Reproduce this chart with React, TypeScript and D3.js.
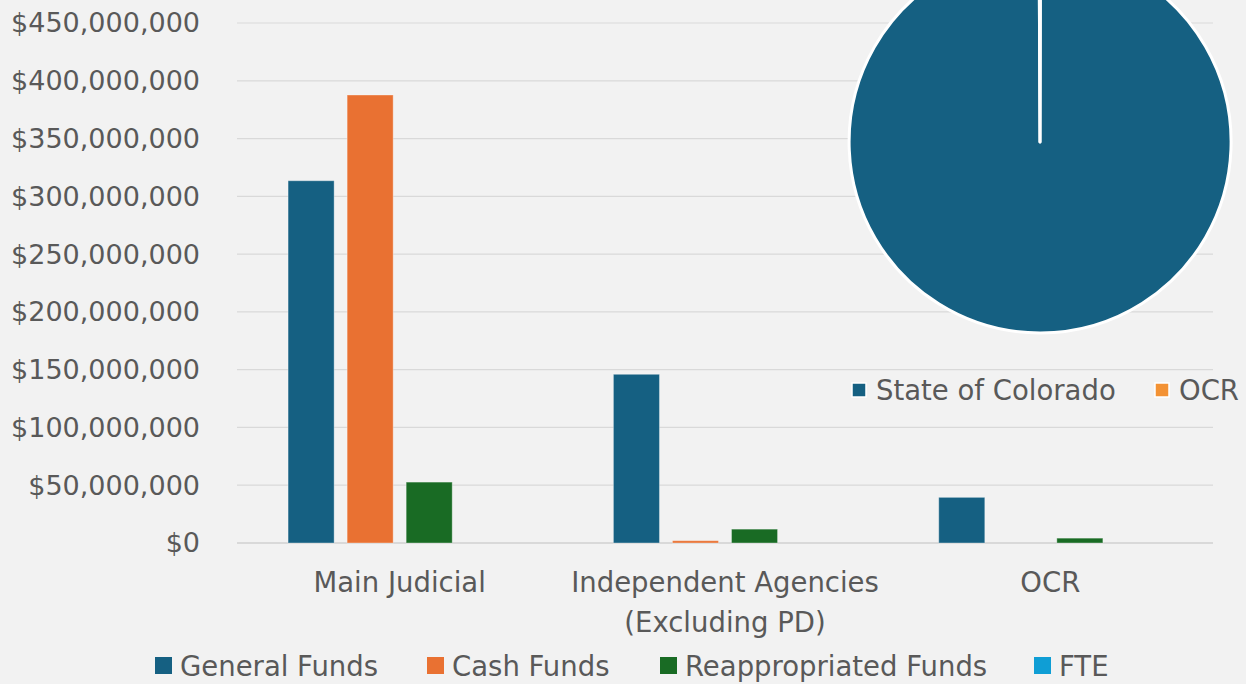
import React from "react";
import * as d3 from "d3";

const categories = ["Main Judicial", "Independent Agencies\n(Excluding PD)", "OCR"];
const seriesNames = ["General Funds", "Cash Funds", "Reappropriated Funds", "FTE"];
const generalFunds = [313500000, 146000000, 39500000];
const cashFunds = [387700000, 2000000, 0];
const reappropriatedFunds = [52700000, 12000000, 4200000];
const fte = [0, 0, 0];
const seriesColors = ["#156082", "#E97132", "#196B24", "#0F9ED5"];
const yTicks = [0, 50000000, 100000000, 150000000, 200000000, 250000000, 300000000, 350000000, 400000000, 450000000];

const pieLabels = ["State of Colorado", "OCR"];
const pieValues = [99.9, 0.1];
const pieColors = ["#156082", "#F39234"];

const W = 1246, H = 684;
const FONT = "'DejaVu Sans', sans-serif";
const TXT = "#595959";

export default function App() {
  const seriesValues = [generalFunds, cashFunds, reappropriatedFunds, fte];
  const y = d3.scaleLinear().domain([0, 450000000]).range([543, 23]);
  const x0 = d3.scaleBand<number>().domain(d3.range(categories.length)).range([237, 1213]).padding(0);
  const bw = x0.bandwidth();
  const x1 = d3.scaleBand<number>().domain(d3.range(seriesNames.length)).range([bw * 0.157, bw * 0.843]).paddingInner(0.22);
  const fmt = (v: number) => "$" + d3.format(",")(v);

  const pie = d3.pie<number>().sort(null).startAngle(0.002).endAngle(Math.PI * 2 + 0.002)(pieValues);
  const arc = d3.arc<d3.PieArcDatum<number>>().innerRadius(0).outerRadius(191);

  const legendX = [155, 427, 660, 1034];

  return (
    <svg width={W} height={H} style={{ position: "absolute", left: 0, top: 0, background: "#F2F2F2" }} fontFamily={FONT}>
      <rect x={0} y={0} width={W} height={H} fill="#F2F2F2" />
      {yTicks.map((t) => (
        <g key={t}>
          <line x1={237} x2={1213} y1={y(t)} y2={y(t)} stroke={t === 0 ? "#D0D0D0" : "#D9D9D9"} strokeWidth={t === 0 ? 1.5 : 1.2} />
          <text x={200} y={y(t)} dy="0.35em" textAnchor="end" fontSize={27} fill={TXT}>{fmt(t)}</text>
        </g>
      ))}
      {categories.map((c, ci) => (
        <g key={c} transform={`translate(${x0(ci)},0)`}>
          {seriesValues.map((vals, si) => {
            const v = vals[ci];
            if (v <= 0) return null;
            return (
              <rect key={si} x={x1(si)} width={x1.bandwidth()} y={y(v)} height={y(0) - y(v)} fill={seriesColors[si]} stroke="rgba(255,255,255,0.35)" strokeWidth={1} />
            );
          })}
          {c.split("\n").map((line, li) => (
            <text key={li} x={bw / 2} y={582 + li * 40} dy="0.35em" textAnchor="middle" fontSize={27.5} fill={TXT}>{line}</text>
          ))}
        </g>
      ))}
      <g transform="translate(1040,142)">
        {pie.map((d, i) => (
          <path key={i} d={arc(d) || ""} fill={pieColors[i]} stroke="#FFFFFF" strokeWidth={3} strokeLinejoin="round" />
        ))}
      </g>
      {pieLabels.map((l, i) => {
        const lx = i === 0 ? 852 : 1155;
        return (
          <g key={l}>
            <rect x={lx} y={383} width={14} height={14} fill={pieColors[i]} stroke="#FFFFFF" strokeWidth={1.5} />
            <text x={lx + 24} y={390} dy="0.35em" fontSize={27.5} fill={TXT}>{l}</text>
          </g>
        );
      })}
      {seriesNames.map((s, i) => (
        <g key={s}>
          <rect x={legendX[i]} y={657} width={17} height={17} fill={seriesColors[i]} />
          <text x={legendX[i] + 25} y={666} dy="0.35em" fontSize={27.5} fill={TXT}>{s}</text>
        </g>
      ))}
    </svg>
  );
}
